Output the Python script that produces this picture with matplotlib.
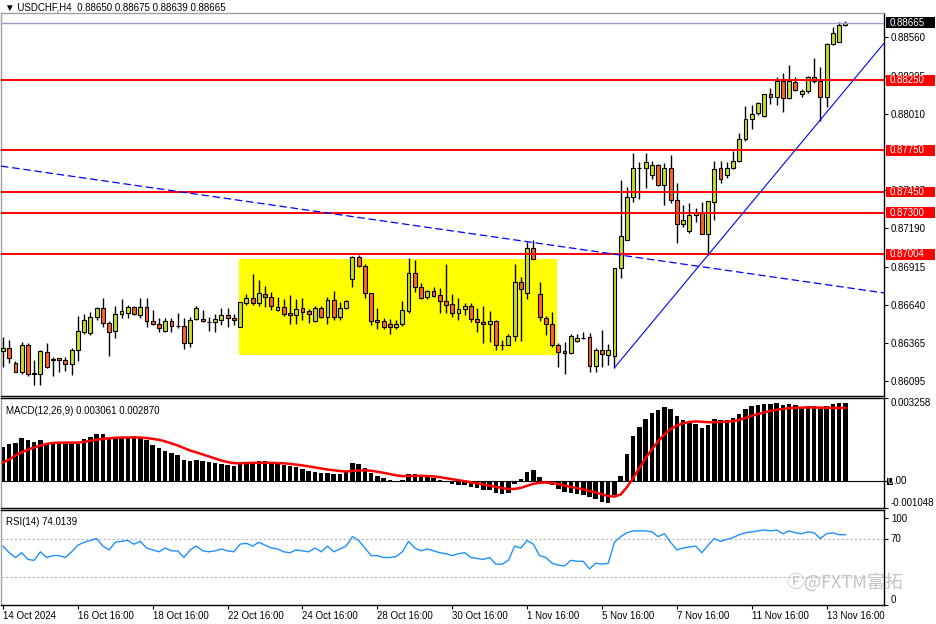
import matplotlib
matplotlib.use("Agg")
import matplotlib.pyplot as plt
from matplotlib.patches import Rectangle
from matplotlib.ticker import FormatStrFormatter
import numpy as np

# USDCHF H4 candles, 14 Oct 16:00 .. 14 Nov
opens = [0.86310, 0.86334, 0.86222, 0.86157, 0.86353, 0.86150, 0.86143, 0.86305, 0.86253, 0.86258,
         0.86243, 0.86219, 0.86315, 0.86448, 0.86437, 0.86554, 0.86616, 0.86509, 0.86456, 0.86578,
         0.86580, 0.86623, 0.86570, 0.86628, 0.86525, 0.86504, 0.86454, 0.86527, 0.86487, 0.86487,
         0.86365, 0.86540, 0.86540, 0.86520, 0.86516, 0.86532, 0.86566, 0.86545, 0.86484, 0.86652,
         0.86688, 0.86656, 0.86717, 0.86695, 0.86604, 0.86628, 0.86580, 0.86566, 0.86616, 0.86597,
         0.86525, 0.86616, 0.86552, 0.86676, 0.86556, 0.86616, 0.86824, 0.86986, 0.86920, 0.86724,
         0.86532, 0.86525, 0.86504, 0.86480, 0.86504, 0.86597, 0.86867, 0.86767, 0.86699, 0.86740,
         0.86712, 0.86669, 0.86647, 0.86580, 0.86611, 0.86633, 0.86540, 0.86520, 0.86502, 0.86525,
         0.86353, 0.86353, 0.86418, 0.86803, 0.86724, 0.87046, 0.86717, 0.86549, 0.86504, 0.86353,
         0.86310, 0.86294, 0.86382, 0.86401, 0.86410, 0.86203, 0.86315, 0.86281, 0.86274, 0.86903,
         0.87106, 0.87412, 0.87620, 0.87624, 0.87572, 0.87644, 0.87500, 0.87620, 0.87393, 0.87219,
         0.87171, 0.87283, 0.87302, 0.87147, 0.87381, 0.87620, 0.87572, 0.87620, 0.87675, 0.87828,
         0.87971, 0.88014, 0.87995, 0.88151, 0.88129, 0.88246, 0.88122, 0.88241, 0.88155, 0.88176,
         0.88277, 0.88246, 0.88129, 0.88509, 0.88528, 0.88650]
highs = [0.86413, 0.86389, 0.86238, 0.86372, 0.86365, 0.86246, 0.86317, 0.86365, 0.86269, 0.86262,
         0.86269, 0.86329, 0.86561, 0.86573, 0.86592, 0.86628, 0.86692, 0.86525, 0.86635, 0.86683,
         0.86640, 0.86635, 0.86692, 0.86692, 0.86604, 0.86545, 0.86545, 0.86545, 0.86580, 0.86549,
         0.86556, 0.86635, 0.86604, 0.86556, 0.86573, 0.86616, 0.86616, 0.86575, 0.86664, 0.86717,
         0.86862, 0.86819, 0.86778, 0.86735, 0.86699, 0.86681, 0.86712, 0.86681, 0.86688, 0.86613,
         0.86633, 0.86633, 0.86699, 0.86740, 0.86664, 0.86676, 0.86991, 0.86998, 0.86932, 0.86728,
         0.86616, 0.86545, 0.86537, 0.86532, 0.86669, 0.86975, 0.86963, 0.86795, 0.86747, 0.86771,
         0.86764, 0.86932, 0.86717, 0.86688, 0.86652, 0.86652, 0.86616, 0.86633, 0.86597, 0.86532,
         0.86389, 0.86430, 0.86932, 0.86843, 0.87094, 0.87106, 0.86807, 0.86561, 0.86592, 0.86365,
         0.86372, 0.86430, 0.86430, 0.86448, 0.86437, 0.86329, 0.86461, 0.86358, 0.86907, 0.87536,
         0.87488, 0.87728, 0.87667, 0.87730, 0.87675, 0.87651, 0.87656, 0.87715, 0.87513, 0.87357,
         0.87369, 0.87338, 0.87381, 0.87386, 0.87675, 0.87672, 0.87667, 0.87744, 0.87871, 0.88069,
         0.88074, 0.88093, 0.88155, 0.88198, 0.88277, 0.88301, 0.88361, 0.88277, 0.88189, 0.88284,
         0.88413, 0.88349, 0.88516, 0.88635, 0.88667, 0.88675]
lows = [0.86198, 0.86222, 0.86157, 0.86143, 0.86133, 0.86066, 0.86066, 0.86186, 0.86133, 0.86157,
        0.86167, 0.86138, 0.86238, 0.86430, 0.86425, 0.86532, 0.86484, 0.86274, 0.86401, 0.86549,
        0.86545, 0.86568, 0.86545, 0.86484, 0.86497, 0.86448, 0.86444, 0.86448, 0.86473, 0.86324,
        0.86341, 0.86532, 0.86520, 0.86456, 0.86448, 0.86497, 0.86480, 0.86497, 0.86480, 0.86640,
        0.86640, 0.86633, 0.86623, 0.86604, 0.86597, 0.86563, 0.86504, 0.86504, 0.86532, 0.86509,
        0.86520, 0.86545, 0.86504, 0.86532, 0.86532, 0.86609, 0.86771, 0.86915, 0.86692, 0.86497,
        0.86466, 0.86466, 0.86432, 0.86466, 0.86489, 0.86585, 0.86735, 0.86681, 0.86683, 0.86699,
        0.86580, 0.86580, 0.86556, 0.86532, 0.86568, 0.86516, 0.86444, 0.86365, 0.86377, 0.86317,
        0.86317, 0.86353, 0.86382, 0.86382, 0.86683, 0.86970, 0.86525, 0.86425, 0.86341, 0.86198,
        0.86143, 0.86289, 0.86372, 0.86396, 0.86162, 0.86162, 0.86198, 0.86210, 0.86190, 0.86831,
        0.87106, 0.87381, 0.87398, 0.87481, 0.87541, 0.87493, 0.87357, 0.87369, 0.87087, 0.87201,
        0.87154, 0.87237, 0.87147, 0.86998, 0.87249, 0.87513, 0.87553, 0.87615, 0.87667, 0.87816,
        0.87900, 0.88002, 0.87990, 0.88079, 0.88074, 0.88022, 0.88117, 0.88174, 0.88133, 0.88158,
        0.88230, 0.87959, 0.88062, 0.88504, 0.88523, 0.88639]
closes = [0.86329, 0.86258, 0.86162, 0.86353, 0.86143, 0.86148, 0.86310, 0.86198, 0.86243, 0.86243,
          0.86219, 0.86315, 0.86454, 0.86530, 0.86556, 0.86616, 0.86509, 0.86448, 0.86578, 0.86597,
          0.86623, 0.86573, 0.86623, 0.86527, 0.86504, 0.86473, 0.86527, 0.86487, 0.86486, 0.86365,
          0.86535, 0.86616, 0.86525, 0.86521, 0.86537, 0.86566, 0.86545, 0.86532, 0.86659, 0.86688,
          0.86652, 0.86724, 0.86695, 0.86635, 0.86628, 0.86573, 0.86566, 0.86609, 0.86592, 0.86573,
          0.86616, 0.86552, 0.86676, 0.86556, 0.86616, 0.86669, 0.86982, 0.86920, 0.86724, 0.86527,
          0.86520, 0.86480, 0.86480, 0.86504, 0.86604, 0.86867, 0.86767, 0.86692, 0.86740, 0.86707,
          0.86671, 0.86640, 0.86580, 0.86611, 0.86633, 0.86540, 0.86520, 0.86502, 0.86525, 0.86353,
          0.86352, 0.86418, 0.86803, 0.86752, 0.87046, 0.86970, 0.86552, 0.86504, 0.86353, 0.86305,
          0.86294, 0.86418, 0.86401, 0.86402, 0.86203, 0.86315, 0.86286, 0.86315, 0.86903, 0.87135,
          0.87416, 0.87620, 0.87621, 0.87662, 0.87644, 0.87500, 0.87620, 0.87393, 0.87219, 0.87249,
          0.87285, 0.87297, 0.87147, 0.87386, 0.87613, 0.87543, 0.87620, 0.87675, 0.87830, 0.87974,
          0.88012, 0.88086, 0.88151, 0.88131, 0.88246, 0.88122, 0.88246, 0.88181, 0.88176, 0.88277,
          0.88246, 0.88129, 0.88509, 0.88588, 0.88648, 0.88665]

macd_hist = [0.00134, 0.00147, 0.00151, 0.00168, 0.00161, 0.00155, 0.00160, 0.00147, 0.00153, 0.00147,
             0.00144, 0.00144, 0.00147, 0.00164, 0.00173, 0.00186, 0.00184, 0.00171, 0.00175, 0.00175,
             0.00175, 0.00177, 0.00173, 0.00160, 0.00141, 0.00131, 0.00120, 0.00111, 0.00102, 0.00085,
             0.00081, 0.00085, 0.00081, 0.00074, 0.00072, 0.00069, 0.00065, 0.00061, 0.00072, 0.00074,
             0.00074, 0.00081, 0.00078, 0.00074, 0.00072, 0.00065, 0.00061, 0.00055, 0.00049, 0.00041,
             0.00038, 0.00032, 0.00034, 0.00030, 0.00030, 0.00038, 0.00073, 0.00069, 0.00053, 0.00034,
             0.00022, 0.00014, 0.00006, 0.00002, 0.00006, 0.00030, 0.00030, 0.00022, 0.00018, 0.00014,
             0.00006, -0.00002, -0.00010, -0.00014, -0.00014, -0.00022, -0.00026, -0.00034, -0.00034, -0.00045,
             -0.00049, -0.00045, -0.00010, 0.00010, 0.00038, 0.00045, 0.00018, 0.00002, -0.00014, -0.00030,
             -0.00041, -0.00045, -0.00049, -0.00053, -0.00061, -0.00069, -0.00081, -0.00085, -0.00053, 0.00022,
             0.00105, 0.00176, 0.00211, 0.00243, 0.00267, 0.00278, 0.00290, 0.00282, 0.00255, 0.00239,
             0.00227, 0.00223, 0.00207, 0.00219, 0.00243, 0.00239, 0.00239, 0.00247, 0.00263, 0.00282,
             0.00294, 0.00298, 0.00302, 0.00302, 0.00306, 0.00298, 0.00302, 0.00298, 0.00290, 0.00294,
             0.00294, 0.00282, 0.00294, 0.00302, 0.00306, 0.003061]
macd_signal = [0.00073, 0.00085, 0.00101, 0.00113, 0.00124, 0.00132, 0.00140, 0.00146, 0.00150, 0.00151,
               0.00151, 0.00151, 0.00151, 0.00154, 0.00158, 0.00162, 0.00166, 0.00168, 0.00170, 0.00171,
               0.00171, 0.00172, 0.00171, 0.00169, 0.00166, 0.00162, 0.00156, 0.00148, 0.00140, 0.00130,
               0.00120, 0.00113, 0.00105, 0.00097, 0.00089, 0.00081, 0.00075, 0.00071, 0.00070, 0.00071,
               0.00072, 0.00072, 0.00072, 0.00072, 0.00071, 0.00070, 0.00068, 0.00065, 0.00062, 0.00058,
               0.00054, 0.00050, 0.00046, 0.00043, 0.00040, 0.00038, 0.00040, 0.00042, 0.00043, 0.00041,
               0.00037, 0.00033, 0.00028, 0.00023, 0.00020, 0.00020, 0.00021, 0.00021, 0.00020, 0.00019,
               0.00016, 0.00012, 0.00008, 0.00004, 0.00000, -0.00004, -0.00008, -0.00013, -0.00017, -0.00022,
               -0.00027, -0.00031, -0.00030, -0.00026, -0.00018, -0.00010, -0.00006, -0.00005, -0.00007, -0.00011,
               -0.00017, -0.00022, -0.00027, -0.00032, -0.00038, -0.00044, -0.00051, -0.00058, -0.00060, -0.00052,
               -0.00023, 0.00013, 0.00052, 0.00090, 0.00125, 0.00156, 0.00183, 0.00204, 0.00218, 0.00227,
               0.00232, 0.00234, 0.00233, 0.00231, 0.00231, 0.00232, 0.00233, 0.00235, 0.00240, 0.00248,
               0.00256, 0.00263, 0.00269, 0.00275, 0.00280, 0.00283, 0.00286, 0.00288, 0.00288, 0.00289,
               0.00289, 0.00288, 0.00288, 0.00287, 0.00287, 0.002870]
rsi = [62, 55, 50, 55, 48, 47, 56, 50, 52, 52,
       50, 56, 63, 66, 68, 70, 62, 58, 66, 67,
       68, 64, 67, 60, 58, 56, 60, 57, 57, 50,
       58, 62, 57, 56, 57, 59, 57, 56, 64, 65,
       62, 66, 63, 60, 59, 56, 55, 58, 57, 56,
       60, 56, 62, 56, 59, 62, 72, 68, 60, 52,
       52, 50, 50, 51, 56, 67, 60, 57, 59, 57,
       55, 54, 52, 54, 55, 50, 49, 48, 50, 43,
       43, 47, 62, 60, 68, 64, 52, 50, 44, 42,
       41, 47, 46, 46, 38, 44, 43, 44, 66, 72,
       76, 78, 78, 78, 77, 72, 75, 66, 58, 60,
       61, 62, 55, 63, 70, 67, 69, 71, 74, 76,
       77, 78, 79, 78, 79, 75, 78, 76, 75, 77,
       76, 70, 75, 76, 74, 74.0139]

date_ticks = [0, 12, 24, 36, 48, 60, 72, 84, 96, 108, 120, 132]
date_labels = ["14 Oct 2024", "16 Oct 16:00", "18 Oct 16:00", "22 Oct 16:00", "24 Oct 16:00",
               "28 Oct 16:00", "30 Oct 16:00", "1 Nov 16:00", "5 Nov 16:00", "7 Nov 16:00",
               "11 Nov 16:00", "13 Nov 16:00"]
price_ticks = [0.86095, 0.86365, 0.86640, 0.86915, 0.87190, 0.87465, 0.88010, 0.88285, 0.88560]

levels = [0.88250, 0.87750, 0.87450, 0.87300, 0.87004]
bid = 0.88665
# yellow box (bar from/to, price low/high)
box_t0, box_t1 = 37.8, 88.8
box_p0, box_p1 = 0.86281, 0.86970
# trend lines (bar, price)
down_a, down_b = (0, 0.87634), (84, 0.87094)
up_a, up_b = (98, 0.86190), (113, 0.86998)

plt.rcParams['font.family'] = ['Liberation Sans', 'DejaVu Sans']
FS = 7

W, H = 936, 624
fig = plt.figure(figsize=(W / 100, H / 100), dpi=100)


def px(x0, y0, x1, y1):
    return [x0 / W, 1 - y1 / H, (x1 - x0) / W, (y1 - y0) / H]


ax = fig.add_axes(px(1, 13, 884, 396))
axm = fig.add_axes(px(1, 398, 884, 508))
axr = fig.add_axes(px(1, 510, 884, 605))

n = len(closes)
idx = np.arange(n)
xlim = (-0.32, 141.2)

o = np.array(opens)
c = np.array(closes)
up = c >= o
bull, bear = '#c8dc28', '#ff6420'

ax.add_patch(Rectangle((box_t0, box_p0), box_t1 - box_t0, box_p1 - box_p0,
                       facecolor='#ffff00', edgecolor='none', zorder=1))
ax.vlines(idx, lows, highs, color='black', lw=1, zorder=3)
ax.bar(idx, np.maximum(np.abs(c - o), 0.00001), bottom=np.minimum(o, c), width=0.62,
       color=np.where(up, bull, bear), edgecolor='black', linewidth=0.8, zorder=4)

for lv in levels:
    ax.axhline(lv, color='#ff0000', lw=1.4, zorder=5)
ax.axhline(bid, color='#9a9ad0', lw=1, zorder=5)
ax.axline(down_a, down_b, color='#0000ff', lw=0.9, ls=(0, (6, 3)), zorder=5)
slope = (up_b[1] - up_a[1]) / (up_b[0] - up_a[0])
ax.plot([up_a[0], xlim[1]], [up_a[1], up_a[1] + slope * (xlim[1] - up_a[0])],
        color='#0000ff', lw=0.8, zorder=5)

ax.set_xlim(*xlim)
ax.set_ylim(0.85987, 0.88734)
ax.yaxis.tick_right()
ax.set_yticks(price_ticks)
ax.yaxis.set_major_formatter(FormatStrFormatter('%.5f'))
ax.tick_params(axis='y', direction='out', length=3, width=0.8, labelsize=FS, pad=2)
ax.set_xticks([])

# price tags on the right scale
tr = ax.get_yaxis_transform()
half = 0.00039
tags = [(lv, '#ff0000') for lv in levels] + [(bid, 'black')]
for lv, col in tags:
    ax.add_patch(Rectangle((1.002, lv - half), 0.056, 2 * half, transform=tr,
                           facecolor=col, edgecolor='none', clip_on=False, zorder=9))
    ax.text(1.006, lv, '%.5f' % lv, transform=tr, ha='left', va='center', fontsize=FS,
            color='white', clip_on=False, zorder=10)

# MACD
axm.axhline(0, color='black', lw=0.8, zorder=1)
axm.bar(idx, macd_hist, width=0.72, color='black', zorder=2)
axm.plot(idx, macd_signal, color='#ff0000', lw=1.8, zorder=3)
axm.set_xlim(*xlim)
axm.set_ylim(-0.001048, 0.003258)
axm.yaxis.tick_right()
axm.set_yticks([0.003258, -0.001048])
axm.set_yticklabels(['0.003258', '-0.001048'])
axm.tick_params(axis='y', direction='out', length=3, width=0.8, labelsize=FS, pad=2)
labs = axm.get_yticklabels()
labs[0].set_va('top')
labs[1].set_va('bottom')
axm.set_xticks([])
trm = axm.get_yaxis_transform()
axm.plot([1.0, 1.004], [0, 0], transform=trm, color='black', lw=0.8, clip_on=False)
axm.add_patch(Rectangle((1.0035, -0.00013), 0.0068, 0.00026, transform=trm,
                        facecolor='black', edgecolor='none', clip_on=False, zorder=9))
axm.text(1.0045, 0, '0', transform=trm, ha='left', va='center', fontsize=FS,
         color='white', clip_on=False, zorder=10)
axm.text(1.0107, 0, '.00', transform=trm, ha='left', va='center', fontsize=FS,
         clip_on=False, zorder=10)
axm.text(0.006, 0.93, 'MACD(12,26,9) 0.003061 0.002870', transform=axm.transAxes,
         ha='left', va='top', fontsize=FS)

# RSI
axr.axhline(70, color='#b4b4b4', lw=0.8, ls=(0, (2, 2)))
axr.axhline(30, color='#b4b4b4', lw=0.8, ls=(0, (2, 2)))
axr.plot(idx, rsi, color='#1e90ff', lw=1)
axr.set_xlim(*xlim)
axr.set_ylim(0, 100)
axr.yaxis.tick_right()
axr.set_yticks([92, 70, 0])
axr.set_yticklabels(['100', '70', '0'])
axr.tick_params(axis='y', direction='out', length=3, width=0.8, labelsize=FS, pad=2)
rl = axr.get_yticklabels()
rl[2].set_va('bottom')
axr.text(0.006, 0.93, 'RSI(14) 74.0139', transform=axr.transAxes, ha='left', va='top', fontsize=FS)
axr.set_xticks(date_ticks)
axr.set_xticklabels(date_labels)
axr.tick_params(axis='x', direction='out', length=3, width=0.8, labelsize=FS, pad=1)
for t in axr.get_xticklabels():
    t.set_ha('left')

for a in (ax, axm, axr):
    for s in a.spines.values():
        s.set_color('black')
        s.set_linewidth(1)
    a.spines['left'].set_color('#a0a0a0')
    a.set_facecolor('white')
ax.spines['top'].set_color('#a0a0a0')

fig.text(5 / W, 1 - 8 / H, '\u25bc USDCHF,H4  0.88650 0.88675 0.88639 0.88665',
         ha='left', va='center', fontsize=FS)
fig.text(786 / W, 1 - 582 / H, '\u24bb@FXTM富拓', ha='left', va='center', fontsize=13,
         color='#c4c4c4', family=['Noto Sans CJK SC', 'DejaVu Sans'])

fig.savefig('out.png', dpi=100)
